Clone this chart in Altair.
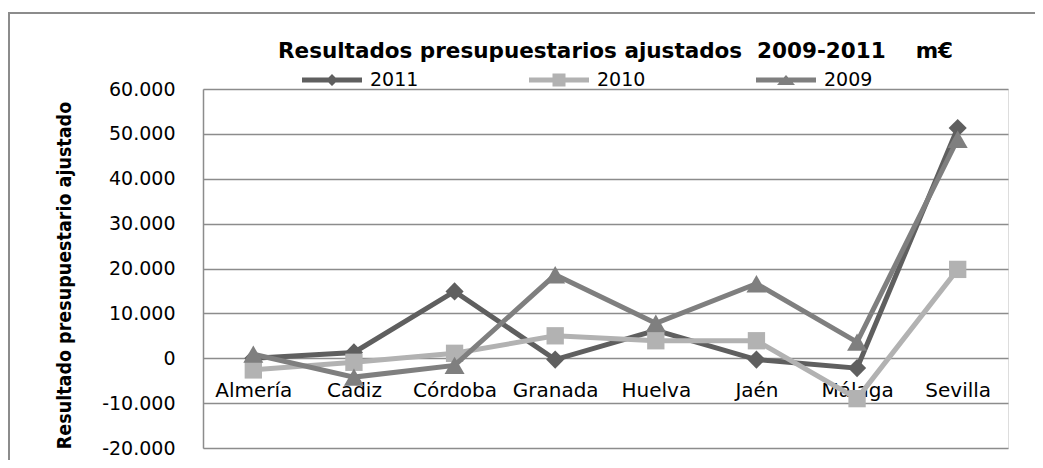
import altair as alt
import pandas as pd

provincias = ["Almería", "Cádiz", "Córdoba", "Granada", "Huelva", "Jaén", "Málaga", "Sevilla"]
years = ["2011", "2010", "2009"]
v2011 = [0, 1300, 14900, -300, 6200, -300, -2200, 51300]
v2010 = [-2600, -900, 1100, 5000, 3900, 3900, -9000, 19800]
v2009 = [900, -4200, -1600, 18600, 7800, 16600, 3600, 48800]
y_ticks = [-20000, -10000, 0, 10000, 20000, 30000, 40000, 50000, 60000]

colors = ["#5f5f5f", "#b2b2b2", "#7f7f7f"]
shapes = ["diamond", "square", "triangle-up"]
sizes = [330, 300, 400]

rows = []
for yr, vals in zip(years, [v2011, v2010, v2009]):
    for p, v in zip(provincias, vals):
        rows.append({"provincia": p, "year": yr, "valor": v})
df = pd.DataFrame(rows)

# legend symbols: thick line with marker (unit coordinates)
line_rect = "M-3,-0.25L3,-0.25L3,0.25L-3,0.25Z"
leg_paths = [
    line_rect + "M0,-0.6L0.6,0L0,0.6L-0.6,0Z",
    line_rect + "M-0.65,-0.65L0.65,-0.65L0.65,0.65L-0.65,0.65Z",
    line_rect + "M0,-0.5L0.9,0.5L-0.9,0.5Z",
]

color_scale = alt.Scale(domain=years, range=colors)
x_enc = alt.X(
    "provincia:N",
    sort=provincias,
    scale=alt.Scale(type="point", padding=0.5),
    axis=alt.Axis(
        title=None, orient="bottom", offset=-90, domain=False, ticks=False, grid=False,
        labelAngle=0, labelPadding=22, labelFont="DejaVu Sans", labelFontSize=20,
        labelColor="#000000",
    ),
)
y_enc = alt.Y(
    "valor:Q",
    scale=alt.Scale(domain=[-20000, 60000], nice=False),
    axis=alt.Axis(
        values=y_ticks,
        labelExpr="datum.value == 0 ? '0' : (datum.value < 0 ? '-' : '') + format(abs(datum.value) / 1000, 'd') + '.000'",
        labelFont="DejaVu Sans", labelFontSize=19, labelColor="#000000", labelPadding=28,
        ticks=False, domain=True, domainColor="#8c8c8c", domainWidth=1.5,
        grid=True, gridColor="#8c8c8c", gridWidth=1.5,
        title="Resultado presupuestario ajustado",
        titleFont="DejaVu Sans Condensed", titleFontSize=19.5, titleFontWeight="bold",
        titleColor="#000000", titleX=-139, titleY=186, titleBaseline="middle", titleAlign="center",
        titleAngle=270,
    ),
)

layers = []
for yr, sh, sz in zip(years, shapes, sizes):
    d = df[df["year"] == yr]
    base = alt.Chart(d)
    ln = base.mark_line(strokeWidth=5).encode(
        x=x_enc, y=y_enc, color=alt.Color("year:N", scale=color_scale, legend=None)
    )
    pt = base.mark_point(filled=True, opacity=1, shape=sh, size=sz).encode(
        x=x_enc, y=y_enc, color=alt.Color("year:N", scale=color_scale, legend=None)
    )
    layers += [ln, pt]

leg = alt.Legend(
    title=None, orient="none", direction="horizontal", columns=3,
    legendX=119, legendY=-19, labelOffset=28, columnPadding=110,
    labelFont="DejaVu Sans", labelFontSize=19, labelColor="#000000",
    symbolOpacity=1, symbolSize=400, symbolStrokeWidth=0,
)
legend_layer = alt.Chart(df).mark_point(filled=True, size=400, opacity=0).encode(
    x=x_enc,
    y=y_enc,
    color=alt.Color("year:N", scale=color_scale, legend=leg),
    shape=alt.Shape("year:N", scale=alt.Scale(domain=years, range=leg_paths), legend=leg),
)

border = alt.Chart(alt.Data(values=[{"a": 1}])).mark_rect(
    fill=None, stroke="#8c8c8c", strokeWidth=2
).encode(
    x=alt.value(-194), x2=alt.value(845), y=alt.value(-76), y2=alt.value(420)
)

chart = alt.layer(border, legend_layer, *layers).properties(
    width=805,
    height=359,
    padding={"left": 195, "top": 81, "right": 27, "bottom": 12},
    autosize=alt.AutoSizeParams(type="none"),
    title=alt.TitleParams(
        "Resultados presupuestarios ajustados\u00a0 2009-2011\u00a0\u00a0\u00a0 m€",
        font="DejaVu Sans", fontSize=21.5, fontWeight="bold", color="#000000",
        anchor="middle", frame="group", dx=10, offset=0, dy=50,
    ),
).configure_view(stroke=None).configure(background="#ffffff")

chart.save("out.html", embed_options={"renderer": "svg", "actions": False})
